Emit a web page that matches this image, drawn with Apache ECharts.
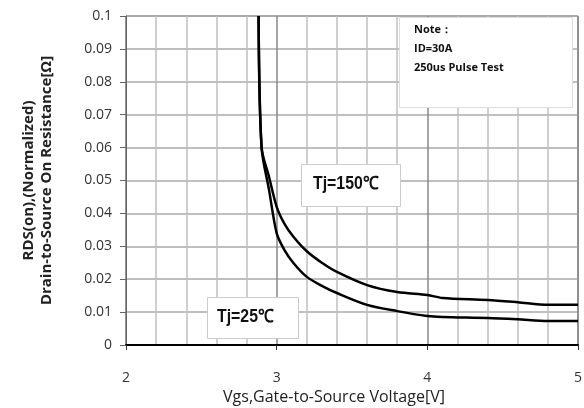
<!DOCTYPE html>
<html><head><meta charset="utf-8">
<script src="https://cdn.jsdelivr.net/npm/echarts@6/dist/echarts.min.js"></script>
<style>html,body{margin:0;padding:0;background:#fff}#c{width:584px;height:408px}</style>
</head><body><div id="c"></div>
<script>
const xTicks = [2, 3, 4, 5];
const yTicks = [0, 0.01, 0.02, 0.03, 0.04, 0.05, 0.06, 0.07, 0.08, 0.09, 0.1];
const tj25 = [[2.88,0.1],[2.90,0.06],[2.95,0.047],[3.0,0.034],[3.05,0.029],[3.11,0.025],[3.2,0.0207],[3.3,0.018],[3.4,0.0158],[3.6,0.0122],[3.8,0.0103],[4.0,0.0088],[4.1,0.0085],[4.4,0.0082],[4.6,0.0078],[4.8,0.0073],[5.0,0.0073]];
const tj150 = [[2.88,0.1],[2.90,0.06],[2.95,0.051],[3.0,0.042],[3.05,0.037],[3.11,0.033],[3.2,0.0285],[3.3,0.025],[3.4,0.0222],[3.6,0.0182],[3.8,0.0161],[4.0,0.0152],[4.1,0.0143],[4.4,0.0137],[4.6,0.013],[4.8,0.0122],[5.0,0.0122]];
const noteLines = ['Note：', 'ID=30A', '250us Pulse Test'];
const label150 = 'Tj=150℃';
const label25 = 'Tj=25℃';

const chart = echarts.init(document.getElementById('c'), null, {renderer: 'canvas'});
const fam = "'Open Sans', 'Liberation Sans', sans-serif";
const boxFam = "'Liberation Sans', Arial, sans-serif";
chart.setOption({
  animation: false,
  backgroundColor: '#fff',
  grid: {left: 126, right: 6, top: 16, bottom: 63, show: true, borderColor: '#555', borderWidth: 1, containLabel: false, outerBoundsMode: 'none'},
  xAxis: {
    type: 'value', min: xTicks[0], max: xTicks[xTicks.length-1], interval: 1,
    name: 'Vgs,Gate-to-Source Voltage[V]', nameLocation: 'middle', nameGap: 41,
    nameTextStyle: {fontFamily: fam, fontSize: 16, color: '#222', padding: [0, 36, 0, 0]},
    axisLine: {show: true, onZero: false, lineStyle: {color: '#000', width: 2}},
    axisTick: {show: true, length: 5, lineStyle: {color: '#333'}},
    axisLabel: {margin: 26, fontFamily: fam, fontSize: 14, color: '#333'},
    splitLine: {show: true, lineStyle: {color: '#888', width: 1.5}},
    minorTick: {show: false, splitNumber: 5},
    minorSplitLine: {show: true, lineStyle: {color: '#c0c0c0', width: 1.5}}
  },
  yAxis: {
    type: 'value', min: yTicks[0], max: yTicks[yTicks.length-1], interval: 0.01,
    name: 'RDS(on),(Normalized)\nDrain-to-Source On Resistance[Ω]', nameLocation: 'middle', nameGap: 70, nameRotate: 90,
    nameTextStyle: {fontFamily: fam, fontSize: 15, fontWeight: 'bold', color: '#222', lineHeight: 18},
    axisLine: {show: true, lineStyle: {color: '#666', width: 1}},
    axisTick: {show: true, length: 6, lineStyle: {color: '#666'}},
    axisLabel: {margin: 14, fontFamily: fam, fontSize: 14, color: '#333'},
    splitLine: {show: true, lineStyle: {color: '#aaa', width: 1.5}}
  },
  series: [
    {name: 'Tj=25', type: 'line', data: tj25, showSymbol: false, smooth: 0.3, lineStyle: {color: '#000', width: 2.5}, z: 5},
    {name: 'Tj=150', type: 'line', data: tj150, showSymbol: false, smooth: 0.3, lineStyle: {color: '#000', width: 2.5}, z: 5}
  ],
  graphic: [
    {type: 'rect', left: 399, top: 17, shape: {width: 173, height: 90}, style: {fill: '#fff', stroke: '#ddd', lineWidth: 1}, z: 10},
    {type: 'text', left: 414, top: 20, style: {text: noteLines.join('\n'), fontFamily: fam, fontSize: 11, fontWeight: 'bold', fill: '#111', lineHeight: 19}, z: 11},
    {type: 'rect', left: 301, top: 164, shape: {width: 99, height: 42}, style: {fill: '#fff', stroke: '#ccc', lineWidth: 1}, z: 10},
    {type: 'text', x: 313, y: 175, scaleX: 0.88, style: {text: label150, fontFamily: boxFam, fontSize: 18, fontWeight: 'bold', fill: '#111'}, z: 11},
    {type: 'rect', left: 207, top: 297, shape: {width: 91, height: 41}, style: {fill: '#fff', stroke: '#ccc', lineWidth: 1}, z: 10},
    {type: 'text', x: 217, y: 308, scaleX: 0.88, style: {text: label25, fontFamily: boxFam, fontSize: 18, fontWeight: 'bold', fill: '#111'}, z: 11}
  ]
});
</script></body></html>
